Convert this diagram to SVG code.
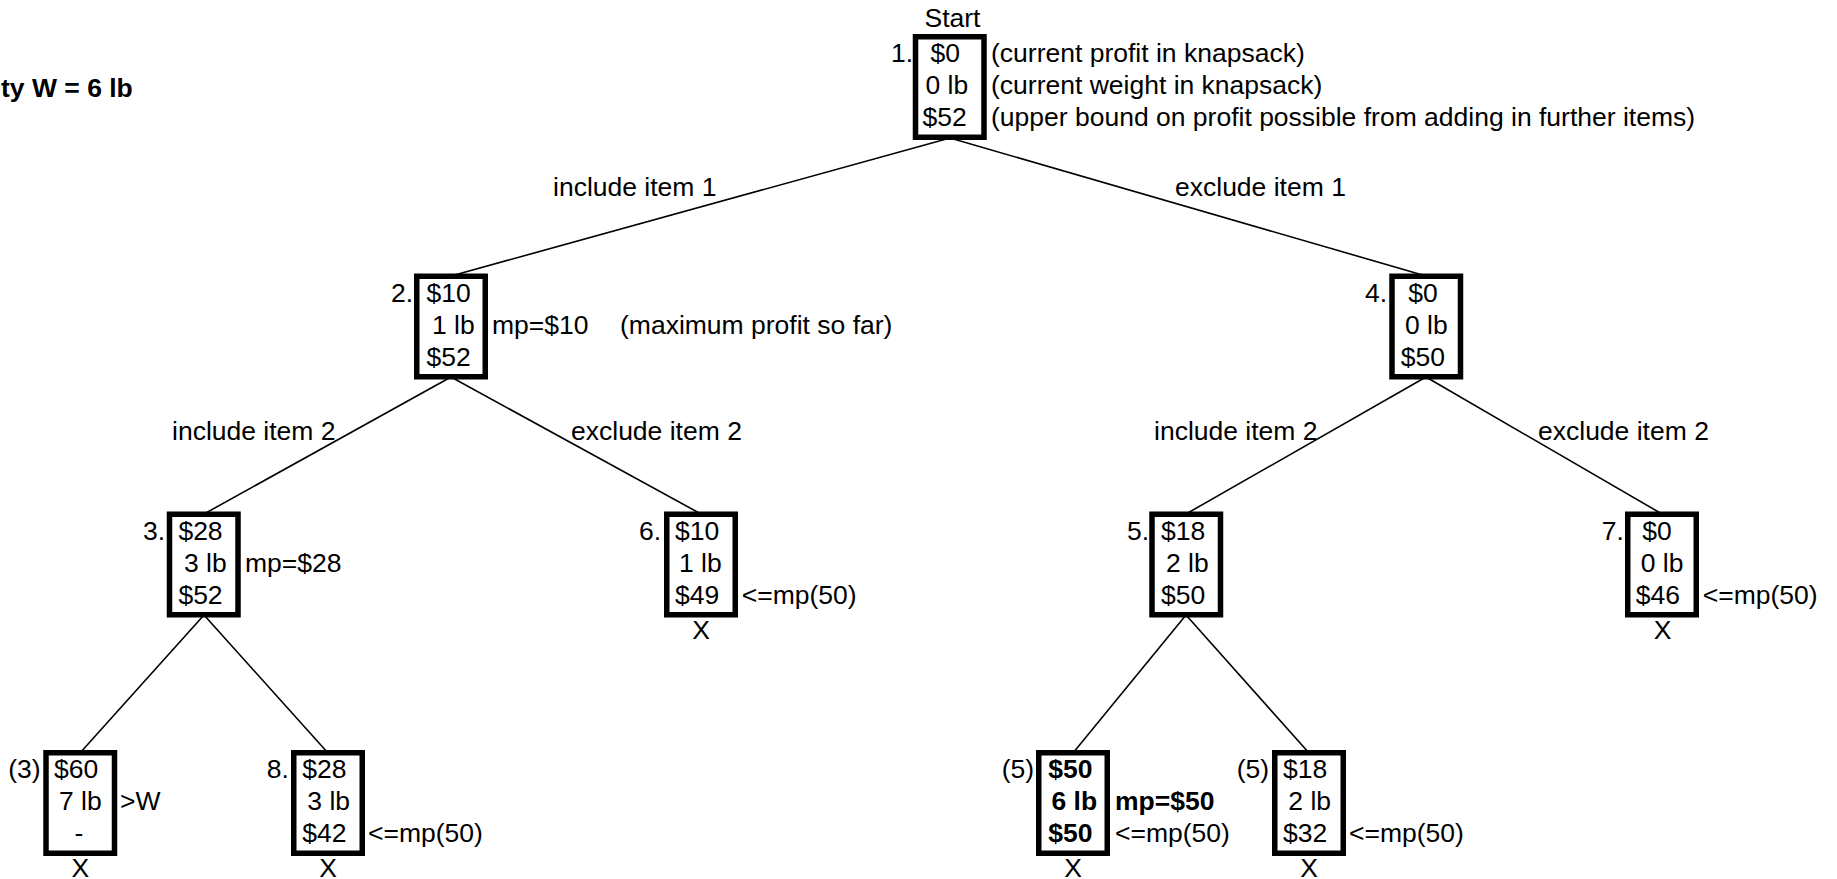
<svg xmlns="http://www.w3.org/2000/svg" width="1837" height="879" viewBox="0 0 1837 879">
  <style>
    text { font-family: "Liberation Sans", Arial, sans-serif; font-size: 26.5px; fill: #000; }
    .b { font-weight: bold; }
    .mid { text-anchor: middle; }
    .box { fill: #fff; stroke: #000; stroke-width: 5.5; }
    .edge { stroke: #000; stroke-width: 1.6; fill: none; }
  </style>
  <rect x="0" y="0" width="1837" height="879" fill="#fff"/>

  <text class="b" x="1" y="97">ty W = 6 lb</text>

  <!-- tree edges, drawn under the boxes -->
  <g id="connectors">
    <line class="edge" x1="950" y1="138" x2="451" y2="276"/>
    <line class="edge" x1="950" y1="138" x2="1426" y2="276"/>
    <line class="edge" x1="451" y1="377" x2="204" y2="514"/>
    <line class="edge" x1="451" y1="377" x2="701" y2="514"/>
    <line class="edge" x1="1426" y1="377" x2="1186" y2="514"/>
    <line class="edge" x1="1426" y1="377" x2="1662" y2="514"/>
    <line class="edge" x1="204" y1="615" x2="80" y2="753"/>
    <line class="edge" x1="204" y1="615" x2="328" y2="753"/>
    <line class="edge" x1="1186" y1="615" x2="1073" y2="753"/>
    <line class="edge" x1="1186" y1="615" x2="1309" y2="753"/>
    <text x="553" y="196">include item 1</text>
    <text x="1175" y="196">exclude item 1</text>
    <text x="172" y="440">include item 2</text>
    <text x="571" y="440">exclude item 2</text>
    <text x="1154" y="440">include item 2</text>
    <text x="1538" y="440">exclude item 2</text>
  </g>

  <g id="node1">
    <text class="mid" x="952.5" y="27">Start</text>
    <rect class="box" x="915.5" y="36.75" width="68.5" height="100.5"/>
    <text x="891" y="62">1.</text>
    <text x="930.5" y="62">$0</text>
    <text x="925.5" y="94">0 lb</text>
    <text x="922.5" y="126">$52</text>
    <text x="991" y="62">(current profit in knapsack)</text>
    <text x="991" y="94">(current weight in knapsack)</text>
    <text x="991" y="126">(upper bound on profit possible from adding in further items)</text>
  </g>

  <g id="node2">
    <rect class="box" x="416.75" y="276.25" width="68.5" height="100.5"/>
    <text x="391" y="301.5">2.</text>
    <text x="426.5" y="301.5">$10</text>
    <text x="432" y="333.5">1 lb</text>
    <text x="426.5" y="365.5">$52</text>
    <text x="492" y="333.5">mp=$10</text>
    <text x="620" y="333.5">(maximum profit so far)</text>
  </g>

  <g id="node4">
    <rect class="box" x="1392" y="276.25" width="68.5" height="100.5"/>
    <text x="1365" y="301.5">4.</text>
    <text x="1408.3" y="301.5">$0</text>
    <text x="1405" y="333.5">0 lb</text>
    <text x="1400.7" y="365.5">$50</text>
  </g>

  <g id="node3">
    <rect class="box" x="169.5" y="514.25" width="68.5" height="100.5"/>
    <text x="143" y="539.5">3.</text>
    <text x="178.4" y="539.5">$28</text>
    <text x="184" y="571.5">3 lb</text>
    <text x="178.4" y="603.5">$52</text>
    <text x="245" y="571.5">mp=$28</text>
  </g>

  <g id="node6">
    <rect class="box" x="666.75" y="514.25" width="68.5" height="100.5"/>
    <text x="639" y="539.5">6.</text>
    <text x="675" y="539.5">$10</text>
    <text x="679" y="571.5">1 lb</text>
    <text x="675" y="603.5">$49</text>
    <text x="741.7" y="603.5">&lt;=mp(50)</text>
    <text class="mid" x="701" y="639">X</text>
  </g>

  <g id="node5">
    <rect class="box" x="1152" y="514.25" width="68.5" height="100.5"/>
    <text x="1127" y="539.5">5.</text>
    <text x="1161" y="539.5">$18</text>
    <text x="1166" y="571.5">2 lb</text>
    <text x="1161" y="603.5">$50</text>
  </g>

  <g id="node7">
    <rect class="box" x="1627.75" y="514.25" width="68.5" height="100.5"/>
    <text x="1601.7" y="539.5">7.</text>
    <text x="1642.3" y="539.5">$0</text>
    <text x="1640.7" y="571.5">0 lb</text>
    <text x="1635.7" y="603.5">$46</text>
    <text x="1702.7" y="603.5">&lt;=mp(50)</text>
    <text class="mid" x="1662.5" y="639">X</text>
  </g>

  <g id="node3b">
    <rect class="box" x="46" y="752.75" width="68.5" height="100.5"/>
    <text x="8.3" y="778">(3)</text>
    <text x="54" y="778">$60</text>
    <text x="59" y="810">7 lb</text>
    <text x="74.5" y="842">-</text>
    <text x="120" y="810">&gt;W</text>
    <text class="mid" x="80.3" y="877">X</text>
  </g>

  <g id="node8">
    <rect class="box" x="293.75" y="752.75" width="68.5" height="100.5"/>
    <text x="266.7" y="778">8.</text>
    <text x="302.3" y="778">$28</text>
    <text x="307.3" y="810">3 lb</text>
    <text x="302.3" y="842">$42</text>
    <text x="368" y="842">&lt;=mp(50)</text>
    <text class="mid" x="328" y="877">X</text>
  </g>

  <g id="node5a">
    <rect class="box" x="1038.75" y="752.75" width="68.5" height="100.5"/>
    <text x="1001.7" y="778">(5)</text>
    <text class="b" x="1048.3" y="778">$50</text>
    <text class="b" x="1051.5" y="810">6 lb</text>
    <text class="b" x="1048.3" y="842">$50</text>
    <text class="b" x="1115" y="810">mp=$50</text>
    <text x="1115" y="842">&lt;=mp(50)</text>
    <text class="mid" x="1073" y="877">X</text>
  </g>

  <g id="node5b">
    <rect class="box" x="1274.75" y="752.75" width="68.5" height="100.5"/>
    <text x="1236.7" y="778">(5)</text>
    <text x="1283" y="778">$18</text>
    <text x="1288.3" y="810">2 lb</text>
    <text x="1283" y="842">$32</text>
    <text x="1349" y="842">&lt;=mp(50)</text>
    <text class="mid" x="1309" y="877">X</text>
  </g>
</svg>
